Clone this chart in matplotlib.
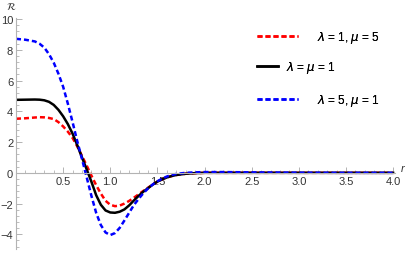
import matplotlib.pyplot as plt
from matplotlib.ticker import MultipleLocator, FormatStrFormatter

plt.rcParams['font.family'] = ['Liberation Sans', 'DejaVu Sans']
plt.rcParams['mathtext.fontset'] = 'dejavusans'

r = [0.0, 0.1, 0.2, 0.25, 0.3, 0.35, 0.4, 0.45, 0.5, 0.55, 0.6, 0.65, 0.7,
     0.75, 0.8, 0.85, 0.9, 0.95, 1.0, 1.05, 1.1, 1.15, 1.2, 1.25, 1.3,
     1.35, 1.4, 1.45, 1.5, 1.55, 1.6, 1.65, 1.7, 1.8, 1.9, 2.0, 2.2, 2.5,
     3.0, 3.5, 4.0]

red = [3.52, 3.55, 3.6, 3.62, 3.61, 3.57, 3.5, 3.3, 3.02, 2.68, 2.27, 1.72,
       1.1, 0.47, -0.18, -0.8, -1.35, -1.82, -2.08, -2.17, -2.13, -2.0,
       -1.83, -1.62, -1.4, -1.18, -0.97, -0.76, -0.57, -0.42, -0.3, -0.21,
       -0.14, -0.06, -0.02, 0.0, 0.0, 0.0, 0.0, 0.0, 0.0]

black = [4.75, 4.76, 4.77, 4.76, 4.72, 4.62, 4.42, 4.1, 3.68, 3.17, 2.55,
         1.8, 1.0, 0.22, -0.58, -1.45, -2.08, -2.45, -2.58, -2.6, -2.53,
         -2.38, -2.12, -1.8, -1.5, -1.23, -1.0, -0.77, -0.57, -0.42, -0.3,
         -0.21, -0.14, -0.06, -0.02, 0.0, 0.0, 0.0, 0.0, 0.0, 0.0]

blue = [8.72, 8.66, 8.55, 8.4, 8.15, 7.72, 7.17, 6.45, 5.6, 4.5, 3.3, 2.05,
        0.9, -0.3, -1.5, -2.6, -3.4, -3.88, -4.05, -3.92, -3.58, -3.1,
        -2.6, -2.1, -1.7, -1.33, -1.02, -0.76, -0.55, -0.38, -0.24, -0.14,
        -0.07, 0.0, 0.03, 0.05, 0.05, 0.03, 0.01, 0.0, 0.0]

labels = [r'$\lambda$ = 1, $\mu$ = 5', r'$\lambda$ = $\mu$ = 1',
          r'$\lambda$ = 5, $\mu$ = 1']

fig = plt.figure(figsize=(4.08, 2.55), dpi=100)
ax = fig.add_axes([16 / 408, 0.02, 379 / 408, 0.907])

l1, = ax.plot(r, red, color='#ff0000', lw=1.8, dashes=(2, 1.2))
l2, = ax.plot(r, black, color='black', lw=1.8)
l3, = ax.plot(r, blue, color='#0000ff', lw=1.8, dashes=(2, 1.2))

ax.set_xlim(0, 4.02)
ax.set_ylim(-4.95, 10.1)

for side in ['top', 'right']:
    ax.spines[side].set_visible(False)
ax.spines['bottom'].set_position(('data', 0))
ax.spines['left'].set_position(('data', 0))
for side in ['bottom', 'left']:
    ax.spines[side].set_color('#b3b3b3')
    ax.spines[side].set_linewidth(0.8)

ax.xaxis.set_minor_locator(MultipleLocator(0.1))
ax.yaxis.set_major_locator(MultipleLocator(2))
ax.yaxis.set_minor_locator(MultipleLocator(0.4))
ax.set_xticks([0.5, 1.0, 1.5, 2.0, 2.5, 3.0, 3.5, 4.0])
ax.xaxis.set_major_formatter(FormatStrFormatter('%.1f'))
ax.tick_params(which='both', direction='in', color='#b3b3b3',
               labelsize=8, labelcolor='#333333', pad=2)
ax.tick_params(which='major', length=4, width=0.7)
ax.tick_params(which='minor', length=2, width=0.6)

# axis labels sit at the ends of the axes, as in the original
fig.text(11 / 408, 1 - 1 / 255, r'$\mathcal{R}$', fontsize=7.5,
         color='#333333', ha='center', va='top')
ax.annotate('r', xy=(1, 0), xycoords=('axes fraction', 'data'),
            xytext=(4, 0), textcoords='offset points', fontsize=8,
            style='italic', color='#333333', ha='left', va='bottom')

handles = [l1, l2, l3]
hlen = [3.5, 1.85, 3.5]
pads = [1.6, 0.6, 1.6]
ypos = [38, 68, 101]
for h, lab, hl, tp, yp in zip(handles, labels, hlen, pads, ypos):
    leg = fig.legend([h], [lab], loc='center left',
                     bbox_to_anchor=(246 / 408, 1 - yp / 255),
                     frameon=False, fontsize=8.5, handlelength=hl,
                     handletextpad=tp)
    fig.add_artist(leg)

fig.savefig('out.png', dpi=100)
